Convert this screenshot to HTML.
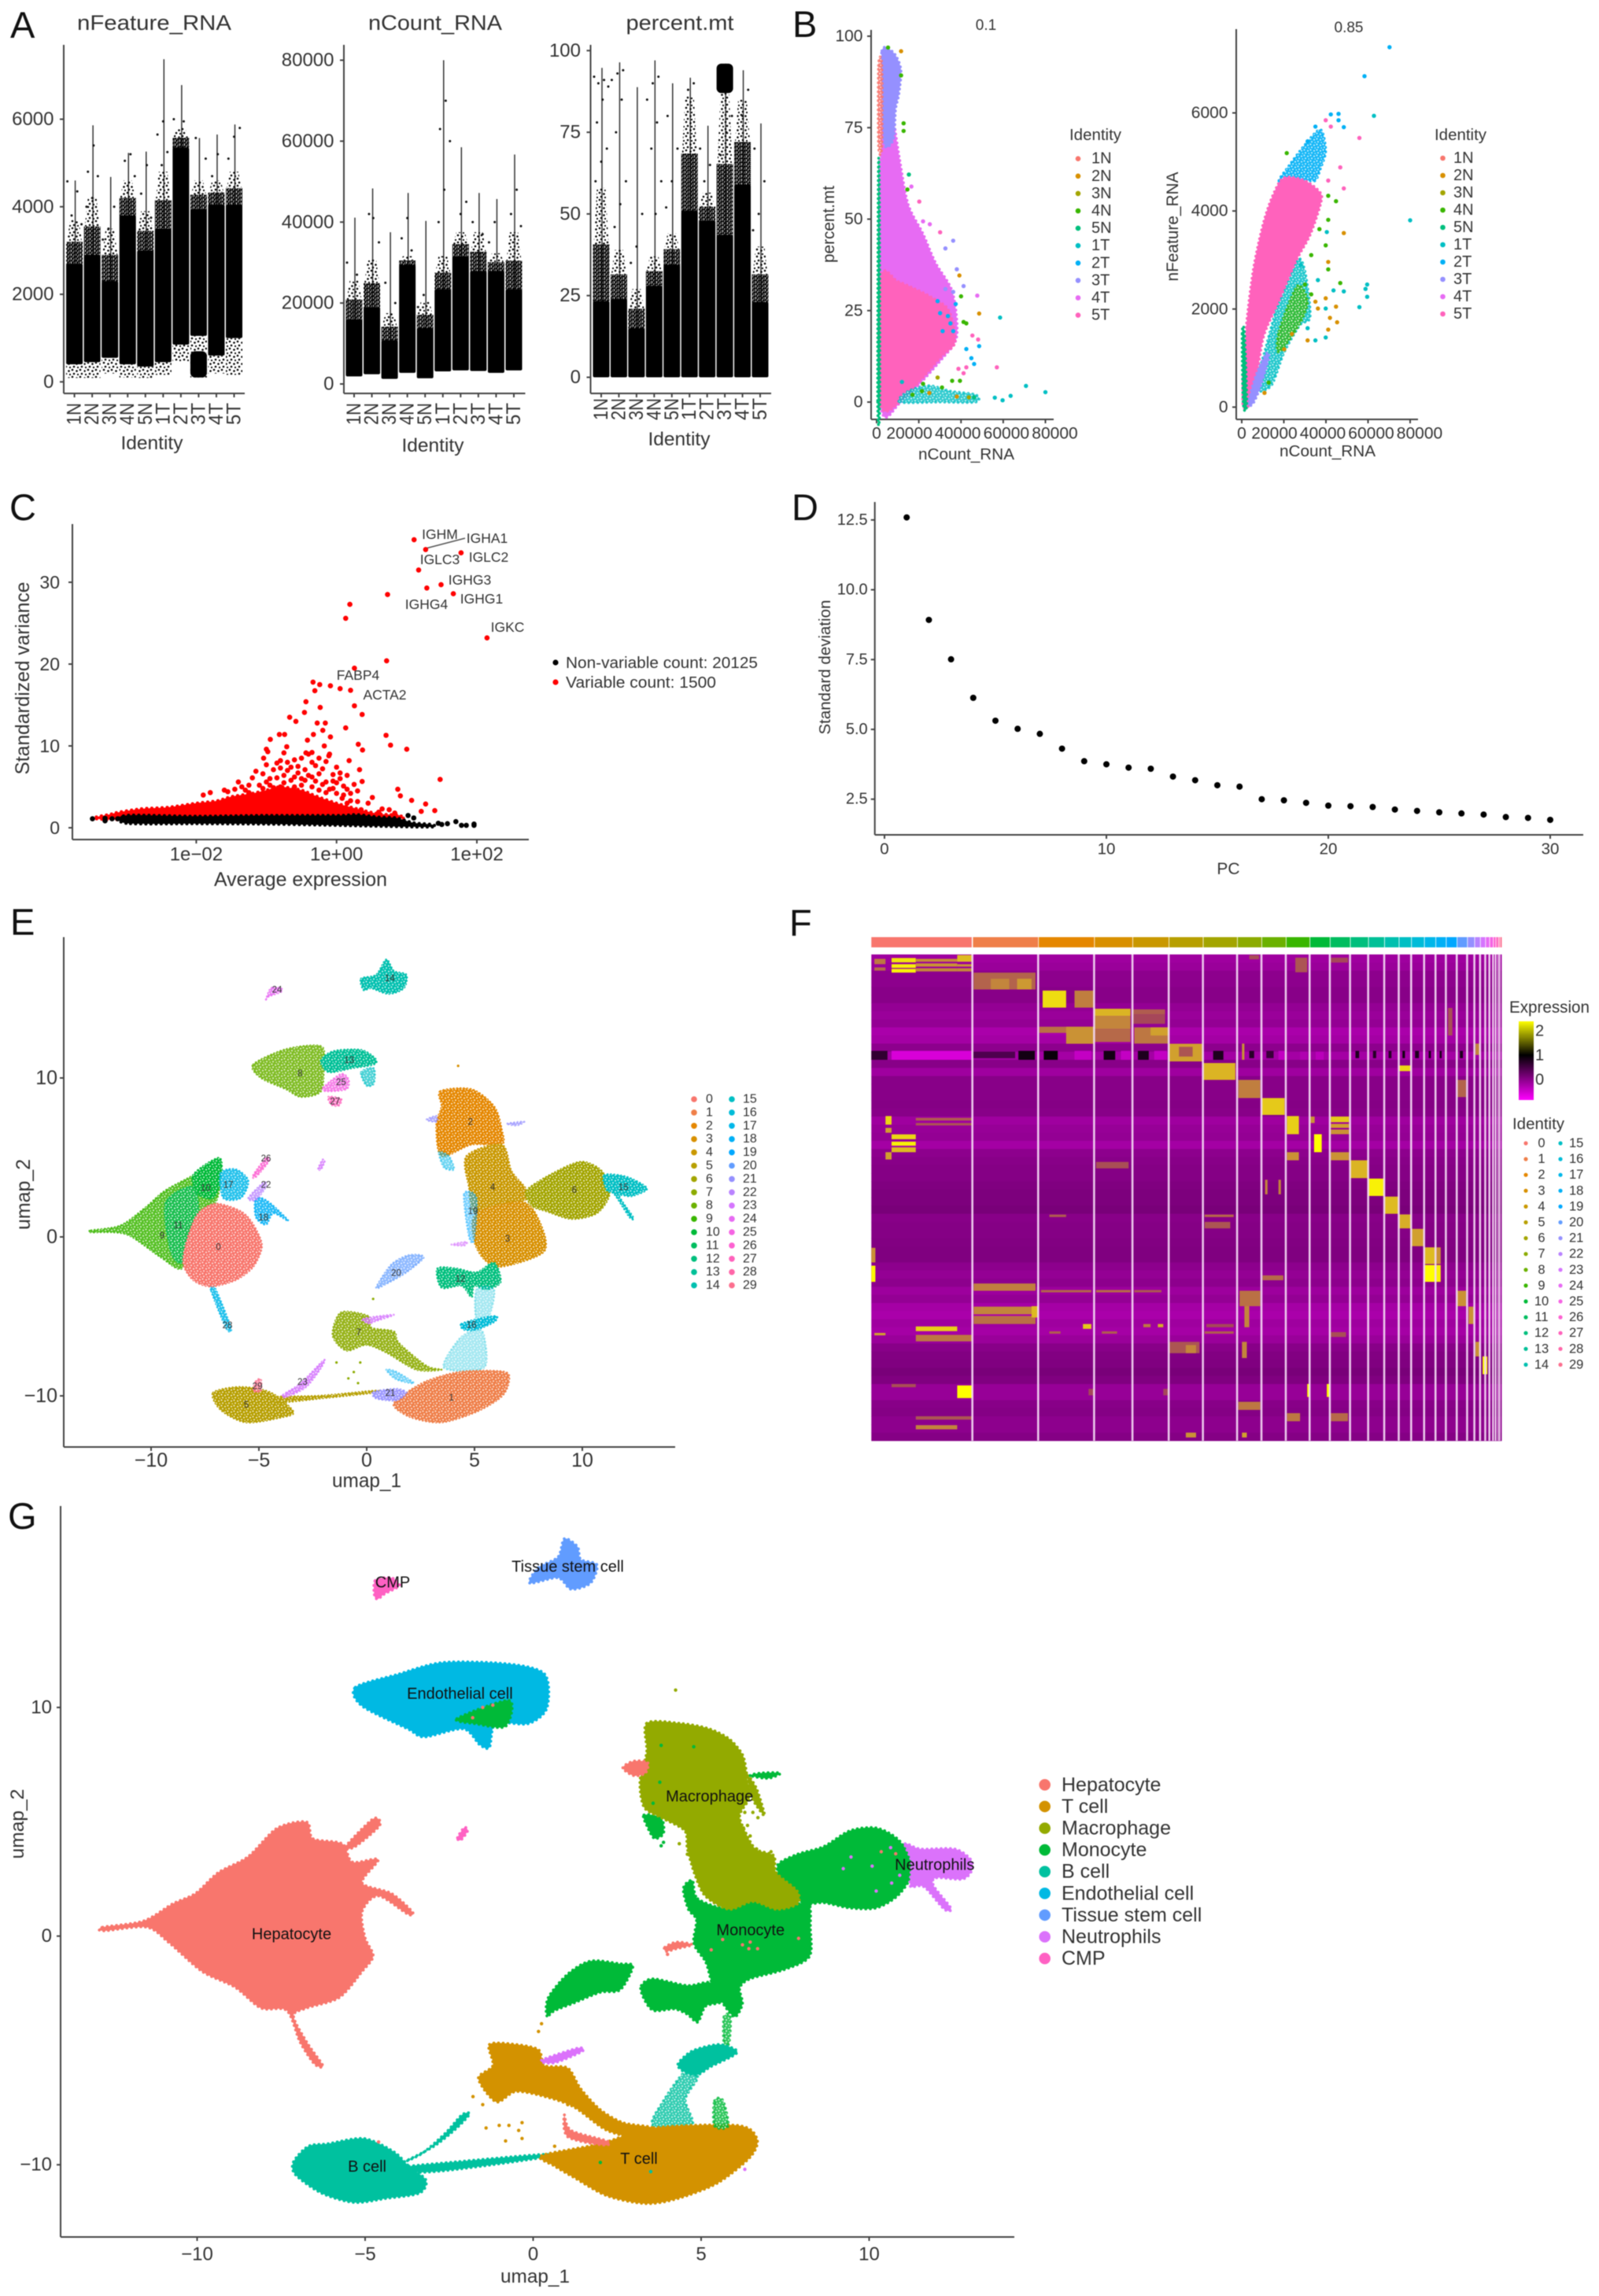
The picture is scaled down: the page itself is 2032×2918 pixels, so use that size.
<!DOCTYPE html>
<html lang="en">
<head>
<meta charset="utf-8">
<title>scRNA-seq quality control and clustering figure</title>
<style>
html,body{margin:0;padding:0;background:#fff}
svg{display:block;font-family:"Liberation Sans",sans-serif;filter:blur(.6px)}
text{fill:#333}
</style>
</head>
<body>
<svg id="root" width="2032" height="2918" viewBox="0 0 2032 2918">
<defs>
  <pattern id="stippleDense" width="6" height="5" patternUnits="userSpaceOnUse">
    <circle cx="1" cy="1" r="1.5" fill="#000"/><circle cx="4.5" cy="1.6" r="1.5" fill="#000"/><circle cx="2.4" cy="3.8" r="1.5" fill="#000"/><circle cx="5.6" cy="4.4" r="1.4" fill="#000"/>
  </pattern>
  <pattern id="stippleSparse" width="10" height="9" patternUnits="userSpaceOnUse">
    <circle cx="2" cy="2" r="1.3" fill="#000"/><circle cx="7.5" cy="3.5" r="1.3" fill="#000"/><circle cx="4" cy="7" r="1.3" fill="#000"/><circle cx="9" cy="8" r="1.1" fill="#000"/>
  </pattern>
  <pattern id="grainWhite" width="8" height="7" patternUnits="userSpaceOnUse">
    <circle cx="1.5" cy="1.5" r="1" fill="#fff" fill-opacity=".8"/><circle cx="6" cy="2.6" r="1" fill="#fff" fill-opacity=".8"/><circle cx="3" cy="5.2" r="1" fill="#fff" fill-opacity=".8"/><circle cx="7.2" cy="6" r=".8" fill="#fff" fill-opacity=".8"/>
  </pattern>
  <linearGradient id="expressionGradient" x1="0" y1="0" x2="0" y2="1">
    <stop offset="0" stop-color="#ffff00"/><stop offset=".43" stop-color="#000000"/><stop offset="1" stop-color="#ff00ff"/>
  </linearGradient>
</defs>

<!-- Panel letters -->
<text x="13" y="48" font-size="47" style="fill:#111">A</text>
<text x="1007" y="47" font-size="47" style="fill:#111">B</text>
<text x="12" y="661" font-size="47" style="fill:#111">C</text>
<text x="1006" y="661" font-size="47" style="fill:#111">D</text>
<text x="13" y="1188" font-size="47" style="fill:#111">E</text>
<text x="1003" y="1189" font-size="47" style="fill:#111">F</text>
<text x="10" y="1943" font-size="47" style="fill:#111">G</text>

<!-- Panel A -->
<g id="panelA1">
  <text x="196" y="38" font-size="27" text-anchor="middle" textLength="196" lengthAdjust="spacingAndGlyphs">nFeature_RNA</text>
  <text x="193" y="571" font-size="24" text-anchor="middle" textLength="79" lengthAdjust="spacingAndGlyphs">Identity</text>
</g>
<g id="panelA2">
  <text x="553" y="38" font-size="27" text-anchor="middle" textLength="170" lengthAdjust="spacingAndGlyphs">nCount_RNA</text>
  <text x="550" y="574" font-size="24" text-anchor="middle" textLength="79" lengthAdjust="spacingAndGlyphs">Identity</text>
</g>
<g id="panelA3">
  <text x="864" y="38" font-size="27" text-anchor="middle" textLength="137" lengthAdjust="spacingAndGlyphs">percent.mt</text>
  <text x="863" y="566" font-size="24" text-anchor="middle" textLength="79" lengthAdjust="spacingAndGlyphs">Identity</text>
</g>

<!-- Panel B -->
<g id="panelB1">
  <text x="1253" y="38" font-size="19" text-anchor="middle">0.1</text>
  <text x="1228" y="584" font-size="20" text-anchor="middle" textLength="122" lengthAdjust="spacingAndGlyphs">nCount_RNA</text>
  <text transform="rotate(-90 1060 285)" x="1060" y="285" font-size="21" text-anchor="middle" textLength="98" lengthAdjust="spacingAndGlyphs">percent.mt</text>
  <text x="1359" y="178" font-size="20" textLength="66" lengthAdjust="spacingAndGlyphs">Identity</text>
</g>
<g id="panelB2">
  <text x="1714" y="41" font-size="19" text-anchor="middle">0.85</text>
  <text x="1687" y="580" font-size="20" text-anchor="middle" textLength="122" lengthAdjust="spacingAndGlyphs">nCount_RNA</text>
  <text transform="rotate(-90 1497 288)" x="1497" y="288" font-size="21" text-anchor="middle" textLength="139" lengthAdjust="spacingAndGlyphs">nFeature_RNA</text>
  <text x="1823" y="178" font-size="20" textLength="66" lengthAdjust="spacingAndGlyphs">Identity</text>
</g>

<!-- Panel C -->
<g id="panelC">
  <text x="382" y="1126" font-size="25" text-anchor="middle" textLength="220" lengthAdjust="spacingAndGlyphs">Average expression</text>
  <text transform="rotate(-90 37 862)" x="37" y="862" font-size="25" text-anchor="middle" textLength="245" lengthAdjust="spacingAndGlyphs">Standardized variance</text>
  <circle cx="706" cy="842" r="3.6" fill="#000"/>
  <circle cx="706" cy="867" r="3.6" fill="#f00"/>
  <text x="719" y="849" font-size="20.5" textLength="244" lengthAdjust="spacingAndGlyphs">Non-variable count: 20125</text>
  <text x="719" y="874" font-size="20.5" textLength="191" lengthAdjust="spacingAndGlyphs">Variable count: 1500</text>
  <line x1="541" y1="697" x2="591" y2="684" stroke="#555" stroke-width="1.6"/>
  <text x="559" y="685" font-size="17.5" text-anchor="middle">IGHM</text>
  <text x="619" y="690" font-size="17.5" text-anchor="middle">IGHA1</text>
  <text x="559" y="717" font-size="17.5" text-anchor="middle">IGLC3</text>
  <text x="621" y="714" font-size="17.5" text-anchor="middle">IGLC2</text>
  <text x="597" y="743" font-size="17.5" text-anchor="middle">IGHG3</text>
  <text x="612" y="767" font-size="17.5" text-anchor="middle">IGHG1</text>
  <text x="542" y="774" font-size="17.5" text-anchor="middle">IGHG4</text>
  <text x="645" y="803" font-size="17.5" text-anchor="middle">IGKC</text>
  <text x="455" y="864" font-size="17.5" text-anchor="middle">FABP4</text>
  <text x="489" y="889" font-size="17.5" text-anchor="middle">ACTA2</text>
</g>

<!-- Panel D -->
<g id="panelD">
  <text x="1561" y="1111" font-size="21" text-anchor="middle">PC</text>
  <text transform="rotate(-90 1055 848)" x="1055" y="848" font-size="20" text-anchor="middle" textLength="171" lengthAdjust="spacingAndGlyphs">Standard deviation</text>
</g>

<!-- Panel E -->
<g id="panelE">
  <text x="466" y="1890" font-size="25" text-anchor="middle" textLength="88" lengthAdjust="spacingAndGlyphs">umap_1</text>
  <text transform="rotate(-90 38 1518)" x="38" y="1518" font-size="25" text-anchor="middle" textLength="90" lengthAdjust="spacingAndGlyphs">umap_2</text>
</g>

<!-- Panel F -->
<g id="panelF">
  <text x="1918" y="1287" font-size="21" textLength="102" lengthAdjust="spacingAndGlyphs">Expression</text>
  <rect x="1930" y="1298" width="19" height="100" fill="url(#expressionGradient)"/>
  <text x="1922" y="1435" font-size="20" textLength="66" lengthAdjust="spacingAndGlyphs">Identity</text>
</g>

<!-- Panel G -->
<g id="panelG">
  <text x="680" y="2901" font-size="24" text-anchor="middle" textLength="88" lengthAdjust="spacingAndGlyphs">umap_1</text>
  <text transform="rotate(-90 30 2318)" x="30" y="2318" font-size="24" text-anchor="middle" textLength="89" lengthAdjust="spacingAndGlyphs">umap_2</text>
</g>
</svg>

<script>
/* Shared drawing helpers */
const rootSvg = document.getElementById('root');
function add(parent, tag, name, attrs) {
  const el = document.createElementNS(rootSvg.namespaceURI, tag);
  
  
  for (const k in attrs) el.setAttribute(k, attrs[k]);
  parent.appendChild(el);
  return el;
}
function label(parent, name, x, y, str, size, anchor, rotate) {
  const a = {x: x, y: y, 'font-size': size, 'text-anchor': anchor || 'middle', 'dominant-baseline': 'central'};
  if (rotate) a.transform = 'rotate(' + rotate + ' ' + x + ' ' + y + ')';
  const t = add(parent, 'text', name, a);
  t.textContent = str;
  return t;
}
function linear(d0, p0, d1, p1) { return function (v) { return p0 + (v - d0) * (p1 - p0) / (d1 - d0); }; }
function axes(g, prefix, left, top, bottom, right) {
  add(g, 'line', prefix + '-y-axis-line', {x1: left, y1: top, x2: left, y2: bottom, stroke: '#444', 'stroke-width': 2});
  add(g, 'line', prefix + '-x-axis-line', {x1: left, y1: bottom, x2: right, y2: bottom, stroke: '#444', 'stroke-width': 2});
}
function yTicks(g, prefix, values, names, ys, left, size, gap) {
  values.forEach(function (v, i) {
    add(g, 'line', prefix + '-y-tick', {x1: left - 5, y1: ys(v), x2: left, y2: ys(v), stroke: '#444', 'stroke-width': 2});
    label(g, prefix + '-y-tick-label', left - gap, ys(v), names[i], size, 'end');
  });
}
function xTicks(g, prefix, values, names, xs, bottom, labelY, size, shift) {
  values.forEach(function (v, i) {
    add(g, 'line', prefix + '-x-tick', {x1: xs(v), y1: bottom, x2: xs(v), y2: bottom + 5, stroke: '#444', 'stroke-width': 2});
    label(g, prefix + '-x-tick-label', xs(v) + (shift ? shift(v) : 0), labelY, names[i], size);
  });
}
/* Closed Catmull-Rom outline through the given data-unit vertices */
function smoothPath(pts, xs, ys) {
  const p = pts.map(function (q) { return [xs(q[0]), ys(q[1])]; });
  const n = p.length;
  let d = 'M' + p[0][0].toFixed(1) + ' ' + p[0][1].toFixed(1);
  for (let i = 0; i < n; i++) {
    const a = p[(i - 1 + n) % n], b = p[i], c = p[(i + 1) % n], e = p[(i + 2) % n];
    d += 'C' + (b[0] + (c[0] - a[0]) / 7).toFixed(1) + ' ' + (b[1] + (c[1] - a[1]) / 7).toFixed(1) + ' ' +
         (c[0] - (e[0] - b[0]) / 7).toFixed(1) + ' ' + (c[1] - (e[1] - b[1]) / 7).toFixed(1) + ' ' +
         c[0].toFixed(1) + ' ' + c[1].toFixed(1);
  }
  return d + 'Z';
}
function blob(g, name, pts, xs, ys, color, opacity, dotWidth, grain) {
  const d = smoothPath(pts, xs, ys);
  add(g, 'path', name, {d: d, fill: color, 'fill-opacity': opacity, stroke: color, 'stroke-opacity': opacity, 'stroke-width': dotWidth, 'stroke-dasharray': '0.1 ' + (dotWidth * 1.6).toFixed(1), 'stroke-linecap': 'round', 'stroke-linejoin': 'round'});
  if (grain) add(g, 'path', name + '-grain', {d: d, fill: 'url(#grainWhite)'});
}
function dots(g, name, pts, xs, ys, colorOf, r) {
  pts.forEach(function (q, i) {
    add(g, 'circle', name, {cx: xs(q[0]).toFixed(1), cy: ys(q[1]).toFixed(1), r: r, fill: colorOf(q, i)});
  });
}
</script>

<script>
/* Panel A: per-identity violin / jitter summaries */
const violinCategories = ['1N','2N','3N','4N','5N','1T','2T','3T','4T','5T'];

const nFeatureTicks = [0, 2000, 4000, 6000];
const nFeatureTickLabels = ['0', '2000', '4000', '6000'];
const nFeatureMax = [4600, 5860, 4680, 5230, 5260, 7370, 6780, 5570, 5650, 5880];
const nFeatureSparseTop = [3700, 4200, 3500, 4600, 3900, 4800, 5800, 4600, 4600, 4800];
const nFeatureSolidTop = [2700, 2900, 2300, 3800, 3000, 3500, 5350, 3950, 4050, 4050];
const nFeatureSolidBottom = [400, 450, 550, 400, 350, 450, 850, 1050, 600, 1000];
const nFeatureSparseBottom = [90, 90, 190, 100, 90, 160, 470, 100, 190, 160];
const nFeatureExtras = [[0,4580],[0,4350],[0,3800],[0,3600],[1,5400],[1,4800],[1,4700],[1,4200],[1,4000],[2,4000],[2,3500],[2,3250],[3,5200],[3,5050],[3,4700],[4,4950],[4,4300],[4,3750],[5,5950],[5,5650],[5,5250],[5,4950],[6,6000],[6,5950],[7,5570],[7,5100],[8,5200],[8,4700],[9,5800],[9,5600],[9,5100]];
const nFeatureSolidInset = [[7, 100, 700]];

const nCountTicks = [0, 20000, 40000, 60000, 80000];
const nCountTickLabels = ['0', '20000', '40000', '60000', '80000'];
const nCountMax = [41100, 48300, 37500, 47200, 40300, 80000, 58500, 47200, 45700, 56700];
const nCountSparseTop = [25650, 30800, 17500, 31600, 20400, 31600, 37500, 37500, 32300, 37500];
const nCountSolidTop = [16000, 19000, 10800, 29400, 13800, 23400, 31600, 27900, 27900, 23400];
const nCountSolidBottom = [1860, 2400, 1260, 2750, 1400, 3100, 3350, 3200, 2750, 3350];
const nCountSparseBottom = [1860, 2400, 1260, 2750, 1400, 3100, 3350, 3200, 2750, 3350];
const nCountExtras = [[0,30000],[0,27000],[1,42000],[1,35000],[1,41000],[2,25000],[2,20000],[3,41000],[3,36000],[3,33000],[4,22000],[4,19000],[5,70000],[5,63000],[5,60000],[5,48000],[5,40000],[6,45000],[6,42000],[7,40000],[7,37000],[8,40000],[8,35000],[9,48000],[9,42000],[9,39000]];
const nCountSolidInset = [];

const percentTicks = [0, 25, 50, 75, 100];
const percentTickLabels = ['0', '25', '50', '75', '100'];
const percentMax = [94.7, 96.4, 88.8, 97, 90, 91.7, 77, 96, 94, 77.7];
const percentSparseTop = [58, 39, 27, 37, 44, 86, 56.5, 87, 85, 40];
const percentSolidTop = [23.3, 24, 15, 28, 34.4, 51, 48, 43.6, 59, 23];
const percentSolidBottom = [0, 0, 0, 0, 0, 0, 0, 0, 0, 0];
const percentSparseBottom = [0, 0, 0, 0, 0, 0, 0, 0, 0, 0];
const percentExtras = [[0,92],[0,91],[0,90],[0,89],[0,85],[0,78],[0,70],[0,66],[0,60],[1,94],[1,93],[1,91],[1,85],[1,75],[1,60],[1,53],[1,46],[2,50],[2,40],[2,35],[3,92],[3,90],[3,85],[3,78],[3,70],[3,60],[3,50],[4,80],[4,70],[4,60],[4,52],[5,90],[5,88],[6,70],[6,65],[6,60],[7,80],[7,75],[7,68],[8,88],[8,80],[9,70],[9,60],[9,50],[9,45]];
const percentSolidInset = [[7, 87, 96]];

function drawViolin(g, prefix, left, right, first, last, labelTop, ys, ticks, tickNames, maxV, sparseTop, solidTop, solidBottom, sparseBottom, extras, inset) {
  const xs = linear(0, first, 9, last);
  const half = 10.5;
  axes(g, prefix, left, 57, 500, right);
  yTicks(g, prefix, ticks, tickNames, ys, left, 24, 12.5);
  violinCategories.forEach(function (c, i) {
    const x = xs(i);
    add(g, 'line', prefix + '-x-tick', {x1: x, y1: 500, x2: x, y2: 505, stroke: '#444', 'stroke-width': 2});
    const t = label(g, prefix + '-category-label', x, labelTop, c, 25, 'end', -90);
    t.setAttribute('textLength', 28);
    t.setAttribute('lengthAdjust', 'spacingAndGlyphs');
    add(g, 'line', prefix + '-range-line-' + c, {x1: x + 1, y1: ys(maxV[i]), x2: x + 1, y2: ys(solidTop[i]), stroke: '#333', 'stroke-width': 1.5});
    const mid = (sparseTop[i] + solidTop[i]) / 2;
    const pts = [[x - half + 5, ys(sparseTop[i])], [x + half - 5, ys(sparseTop[i])], [x + half - 1, ys(mid)], [x - half + 1, ys(mid)]];
    add(g, 'polygon', prefix + '-sparse-jitter-' + c, {points: pts.map(function (p) { return p.join(','); }).join(' '), fill: 'url(#stippleSparse)'});
    add(g, 'rect', prefix + '-dense-jitter-' + c, {x: x - half, y: ys(mid), width: half * 2, height: ys(solidTop[i]) - ys(mid) + 1, fill: 'url(#stippleDense)'});
    add(g, 'rect', prefix + '-solid-jitter-' + c, {x: x - half, y: ys(solidTop[i]), width: half * 2, height: ys(solidBottom[i]) - ys(solidTop[i]), fill: '#000', rx: 2});
    if (sparseBottom[i] < solidBottom[i]) {
      add(g, 'rect', prefix + '-lower-jitter-' + c, {x: x - half, y: ys(solidBottom[i]), width: half * 2, height: ys(sparseBottom[i]) - ys(solidBottom[i]), fill: 'url(#stippleSparse)'});
    }
  });
  inset.forEach(function (b) {
    add(g, 'rect', prefix + '-solid-inset', {x: xs(b[0]) - half, y: ys(b[2]), width: half * 2, height: ys(b[1]) - ys(b[2]), fill: '#000', rx: 6});
  });
  extras.forEach(function (q, i) {
    add(g, 'circle', prefix + '-jitter-point', {cx: xs(q[0]) + ((i * 7) % 11 - 5) * 1.8, cy: ys(q[1]), r: 1.5, fill: '#111'});
  });
}
drawViolin(document.getElementById('panelA1'), 'nfeature', 81, 311, 94.6, 297.5, 512, linear(0, 485.3, 6000, 151.5), nFeatureTicks, nFeatureTickLabels, nFeatureMax, nFeatureSparseTop, nFeatureSolidTop, nFeatureSolidBottom, nFeatureSparseBottom, nFeatureExtras, nFeatureSolidInset);
drawViolin(document.getElementById('panelA2'), 'ncount', 437, 667.5, 450, 653, 512, linear(0, 488, 80000, 76.5), nCountTicks, nCountTickLabels, nCountMax, nCountSparseTop, nCountSolidTop, nCountSolidBottom, nCountSparseBottom, nCountExtras, nCountSolidInset);
drawViolin(document.getElementById('panelA3'), 'percent-mt', 750.5, 980, 764, 966, 506, linear(0, 479.5, 100, 64.3), percentTicks, percentTickLabels, percentMax, percentSparseTop, percentSolidTop, percentSolidBottom, percentSparseBottom, percentExtras, percentSolidInset);
</script>

<script>
/* Panel B: feature scatter plots. Dense regions are outlines in data units; outliers are read points [count, y, identity]. */
const identityColors = ['#F8766D','#D89000','#A3A500','#39B600','#00BF7D','#00BFC4','#00B0F6','#9590FF','#E76BF3','#FF62BC'];
const countTicks = [0, 20000, 40000, 60000, 80000];
const countTickLabels = ['0', '20000', '40000', '60000', '80000'];
const mtTicks = [0, 25, 50, 75, 100];
const mtTickLabels = ['0', '25', '50', '75', '100'];
const featureTicks = [0, 2000, 4000, 6000];
const featureTickLabels = ['0', '2000', '4000', '6000'];

const mtRegionIdentity = [8, 7, 0, 9, 4, 5];
const mtRegionOpacity = [1, 1, .85, 1, 1, .8];
const mtRegionOutlines = [
  [[1800,0],[11600,0],[31300,12],[38000,18],[36000,30],[28000,38],[22000,46],[15000,54],[11000,66],[8000,78],[7500,85],[2500,85],[1800,60]],
  [[2500,96],[8000,95.5],[11500,91],[10500,84],[9000,80],[8000,72],[4000,70],[2500,80]],
  [[900,92],[2500,92],[2500,70],[900,70]],
  [[1800,0],[11000,0],[30000,12],[37000,16],[36000,22],[33000,26],[25000,29],[18000,31],[10000,33],[2000,34]],
  [[500,0],[1500,0],[1300,58],[800,62]],
  [[11000,0],[30000,0],[47000,0],[47000,2],[35000,3],[25000,4.5],[15000,3]]
];
const mtOutliers = [[38000,36.3,7],[41200,31.7,7],[36300,44.1,7],[32600,42,7],[30100,46.4,9],[25200,48.6,8],[22000,49.4,8],[20200,54.8,9],[16500,58.9,8],[14600,58.1,3],[15300,62.2,4],[12800,76.2,3],[12800,74.1,3],[11600,89.3,3],[11600,95.9,1],[5400,96.9,3],[45400,18.2,9],[48100,17.1,9],[48600,15.3,6],[42500,14.5,6],[44900,12,6],[46200,10.4,6],[38800,9.1,9],[42500,9.5,9],[36300,19.4,6],[41200,7.9,9],[42500,21.5,3],[41200,21.9,3],[40000,28.9,3],[39250,34.6,1],[47700,29.1,8],[48600,24.2,1],[58500,23.1,5],[57000,9.5,9],[80000,2.7,5],[70800,4.4,5],[63500,1.7,5],[59700,.5,5],[56000,1.2,5],[31300,19.4,6],[33800,23.5,6],[30100,24.3,6],[35000,21.5,6],[37500,26.8,6],[28900,27.6,6],[32600,30.9,7],[36300,30.1,7],[31000,4,3],[22000,5,3],[28900,6.7,2],[35800,5.8,3],[39500,5.8,3],[21500,3,3],[43700,1.3,2],[46200,1.3,4],[17000,2,3],[25000,2.5,1],[38000,1.5,1],[12000,5.5,5]];

const featureRegionIdentity = [6, 5, 3, 9, 7, 4];
const featureRegionOpacity = [.9, .85, .7, 1, 1, 1];
const featureRegionOutlines = [
  [[17700,4620],[21400,4860],[30000,5350],[37400,5660],[39900,5230],[37400,4860],[34900,4620],[30000,4620],[20200,4490]],
  [[6600,380],[11600,1240],[17700,2160],[26300,3000],[30000,2775],[32500,1850],[27600,1670],[20200,1120],[14000,440]],
  [[17700,1550],[26300,2470],[31300,2160],[27600,1700],[17700,1120]],
  [[500,74],[1700,1425],[5400,2775],[10300,3760],[15300,4370],[20200,4680],[30000,4620],[37400,4370],[37400,4130],[32500,3510],[26300,3020],[17700,2160],[10300,1425],[6600,440],[4200,74]],
  [[3000,74],[6600,630],[11600,1090],[12800,1000],[9100,440],[5400,74]],
  [[200,1500],[1300,1500],[2400,74],[700,74]]
];
const featureOutliers = [[70200,7340,6],[58300,6750,6],[62800,5940,5],[80000,3810,5],[55900,5490,9],[59600,2500,5],[58800,2410,5],[59600,2250,5],[55900,2040,5],[48500,5710,6],[46000,5980,6],[42300,5970,6],[46000,5850,6],[39900,5850,9],[42300,5720,9],[35000,5720,6],[31300,5420,6],[21400,5180,3],[46800,4890,9],[41100,4620,9],[48500,4460,9],[41100,4310,3],[44800,4200,3],[41100,3820,3],[36900,3630,3],[40400,3570,5],[48500,3550,1],[39900,3300,3],[41100,2960,1],[41100,2810,3],[36200,2590,5],[46800,2530,3],[43600,2380,5],[48500,2360,5],[39900,2220,1],[44800,2050,1],[39900,2010,5],[36200,2010,1],[41900,1820,1],[45300,1730,1],[41100,1580,1],[39900,1420,5],[35000,1360,5],[31300,1360,1],[31300,1610,5],[23900,1490,1],[20200,1180,1],[12800,500,3],[10800,290,1],[33000,2300,3],[30000,2500,3],[35000,2150,1],[28000,2900,5],[33000,3100,3]];

function drawScatter(g, prefix, left, right, yTop, xs, ys, yVals, yNames, regions, regionIdx, regionOp, outliers, legendDotX, legendTextX, legendStartY, legendStep) {
  axes(g, prefix, left, yTop, 533, right);
  yTicks(g, prefix, yVals, yNames, ys, left, 21, 10.5);
  xTicks(g, prefix, countTicks, countTickLabels, xs, 533, 551, 21, function (v) { return v > 0 ? (v / 20000 - 2.5) * 8 : 0; });
  regions.forEach(function (r, i) {
    blob(g, prefix + '-dense-region-' + violinCategories[regionIdx[i]], r, xs, ys, identityColors[regionIdx[i]], regionOp[i], 3.5, regionOp[i] < 1);
  });
  dots(g, prefix + '-outlier-point', outliers, xs, ys, function (q) { return identityColors[q[2]]; }, 2.7);
  violinCategories.forEach(function (c, i) {
    const y = legendStartY + legendStep * i;
    add(g, 'circle', prefix + '-legend-dot-' + c, {cx: legendDotX, cy: y, r: 3.3, fill: identityColors[i]});
    label(g, prefix + '-legend-label-' + c, legendTextX, y, c, 20, 'start');
  });
}
drawScatter(document.getElementById('panelB1'), 'scatter-left', 1107, 1339, 38, linear(0, 1114, 80000, 1328.5), linear(0, 511, 100, 46), mtTicks, mtTickLabels, mtRegionOutlines, mtRegionIdentity, mtRegionOpacity, mtOutliers, 1370, 1387, 201.7, 22.1);
drawScatter(document.getElementById('panelB2'), 'scatter-right', 1571, 1802, 37, linear(0, 1578, 80000, 1792), linear(0, 517.4, 6000, 143.5), featureTicks, featureTickLabels, featureRegionOutlines, featureRegionIdentity, featureRegionOpacity, featureOutliers, 1833.5, 1847, 201, 22);
</script>

<script>
/* Panel C: variable features, x is log10(average expression) */
const varXTicks = [-2, 0, 2];
const varXTickLabels = ['1e\u221202', '1e+00', '1e+02'];
const varYTicks = [0, 10, 20, 30];
const varYTickLabels = ['0', '10', '20', '30'];
const variablePoints = [[1.105,35.2],[1.27,34],[1.775,33.6],[1.17,31.5],[1.287,29.3],[1.49,29.7],[1.665,28.6],[.727,28.5],[.19,27.3],[.13,25.6],[2.145,23.2],[.713,20.4],[.255,19.5],[-.335,17.8],[-.24,17.5],[-.087,17.35],[.05,17],[.2,16.8],[-.31,16.75],[-.436,15.4],[-.233,14.7],[.255,14.9],[-.458,14.1],[.364,13.85],[-.669,13.5],[-.58,13],[-.276,12.8],[-.16,12.8],[.13,12.2],[-.196,11.9],[.705,11.3],[-.815,11.4],[-.74,11.4],[-.087,11.1],[-.945,10.8],[-.415,10.7],[-.33,11.4],[.31,10.2],[.77,10.1],[-.175,10],[1,9.6],[.37,9.5],[-1,9.6],[-.71,9.9],[-.98,9.3],[-.75,9.15],[-.436,9.15],[-.35,9.2],[-.11,8.8],[-1.04,8.5],[.18,8.2],[-.8,8.2],[1.476,5.9],[.327,7.1],[.873,4.7],[.91,3.9],[1.07,3.35],[1.27,2.9],[1.207,2],[1.4,2.1],[.51,3.7],[.364,5.65],[-1.25,5.2],[-1.2,6.1],[-1.15,6.9],[-1.05,6.6],[-1,7.7],[-.95,6],[-.9,7.1],[-.85,7.9],[-.8,7.3],[-.75,6.4],[-.7,7],[-.7,8],[-.65,7.4],[-.6,8.3],[-.55,7.5],[-.5,8.5],[-.45,7.1],[-.4,9],[-.35,8],[-.3,7.6],[-.25,8.5],[-.2,7.2],[-.15,8.1],[-.1,9],[-.05,6.5],[0,7.4],[.05,6.7],[.1,5.1],[.05,6],[-.05,5.7],[.15,4.7],[.2,4.2],[.25,5.3],[.3,4.5],[.3,3.2],[.2,3.3],[.15,6.4],[.1,4],[-.6,6.2],[-.5,6],[-.4,6.4],[-.3,5.7],[-.2,5.3],[-.1,4.7],[-1,5.6],[-.9,4.9],[-1.3,4.6],[-1.4,5.6],[-1.45,4.7],[-1.55,4.4],[-.8,5],[.45,3],[.65,2.3],[.75,2.2],[.35,2.2],[.6,1.9],[.83,1.8],[-1.6,4.6],[-1.35,5],[-1.25,4.3],[-1.1,5.2],[-1.05,4.8],[-.95,5.2],[-.85,6.1],[-.75,5.5],[-.65,5.8],[-.6,5],[-.55,6.7],[-.5,5.2],[-.45,5.8],[-.35,6.2],[-.35,5],[-.25,6.6],[-.25,4.6],[-.15,5.6],[-.15,4.3],[-.05,4.8],[0,5.5],[0,4.2],[.08,3.6],[.15,3],[-1.8,4.3],[-1.9,4]];
const variableBandOutline = [[-3.2,1],[-3.2,1.7],[-2.8,2.3],[-2.4,2.5],[-2,3],[-1.7,3.3],[-1.5,3.8],[-1.2,4.2],[-1,4.6],[-.8,5],[-.5,4.6],[-.3,3.9],[0,3],[.3,2.3],[.6,1.7],[.9,1.5],[.6,1]];
const nonVariableBandOutline = [[-3,.55],[-3,1.5],[-2,1.4],[-1,1.5],[0,1.5],[.3,1.6],[.6,1.3],[.85,1.2],[1.1,.6],[1.35,.4],[1.35,.1],[.5,.2],[0,.3],[-1,.45],[-2,.5]];
const nonVariablePoints = [[-3.48,1.1],[-3.3,1.15],[-3.3,.85],[-3.2,1.1],[-3.12,1.1],[-3.05,1.2],[1.02,1.5],[1.1,1.2],[1.45,.55],[1.5,.4],[1.58,.5],[1.7,.75],[1.78,.3],[1.85,.3],[1.96,.45],[1.96,.3]];

const panelC = document.getElementById('panelC');
const varX = linear(0, 427.7, 2, 606);
const varY = linear(0, 1052, 30, 740);
axes(panelC, 'variable-features', 92, 666, 1067, 672);
yTicks(panelC, 'variable-features', varYTicks, varYTickLabels, varY, 92, 23, 16);
xTicks(panelC, 'variable-features', varXTicks, varXTickLabels, varX, 1067, 1086, 24);
blob(panelC, 'variable-gene-band', variableBandOutline, varX, varY, '#f00', 1, 4, false);
dots(panelC, 'variable-gene-point', variablePoints, varX, varY, function () { return '#f00'; }, 3.3);
blob(panelC, 'non-variable-gene-band', nonVariableBandOutline, varX, varY, '#000', 1, 4, false);
dots(panelC, 'non-variable-gene-point', nonVariablePoints, varX, varY, function () { return '#000'; }, 3.3);

/* Panel D: elbow plot */
const pcTicks = [0, 10, 20, 30];
const pcTickLabels = ['0', '10', '20', '30'];
const sdTicks = [2.5, 5, 7.5, 10, 12.5];
const sdTickLabels = ['2.5', '5.0', '7.5', '10.0', '12.5'];
const pcStdDev = [12.59,8.92,7.51,6.13,5.31,5.02,4.84,4.31,3.86,3.75,3.63,3.59,3.31,3.18,3,2.95,2.5,2.46,2.37,2.27,2.25,2.22,2.13,2.08,2.03,1.99,1.95,1.86,1.83,1.76];

const panelD = document.getElementById('panelD');
const pcX = linear(0, 1124, 30, 1970);
const sdY = linear(2.5, 1015.7, 12.5, 660.8);
axes(panelD, 'elbow', 1111.7, 638, 1061, 2012);
yTicks(panelD, 'elbow', sdTicks, sdTickLabels, sdY, 1111.7, 20, 9);
xTicks(panelD, 'elbow', pcTicks, pcTickLabels, pcX, 1061, 1079, 20.5);
pcStdDev.forEach(function (v, i) {
  const dot = add(panelD, 'circle', 'elbow-point-pc' + (i + 1), {cx: pcX(i + 1), cy: sdY(v), r: 4, fill: '#000'});
});
</script>

<script>
/* Panel E: clusters on UMAP. Region outlines are in umap units. */
const clusterNames = ['0','1','2','3','4','5','6','7','8','9','10','11','12','13','14','15','16','17','18','19','20','21','22','23','24','25','26','27','28','29'];
const clusterColors = ['#F8766D','#EF7F49','#E58700','#D89000','#C99800','#B79F00','#A3A500','#8CAB00','#6BB100','#39B600','#00BA38','#00BD5F','#00BF7D','#00C097','#00C0AF','#00BFC4','#00BCD8','#00B7E9','#00B0F6','#00A8FF','#619CFF','#9590FF','#B983FF','#D575FE','#E76BF3','#F564E3','#FD61D1','#FF62BC','#FF66A8','#FC6F8F'];
const umapTicksX = [-10, -5, 0, 5, 10];
const umapTickLabelsX = ['\u221210', '\u22125', '0', '5', '10'];
const umapTicksY = [-10, 0, 10];
const umapTickLabelsY = ['\u221210', '0', '10'];

const eRegionCluster = [9,11,10,17,18,22,26,17,0, 2,4,3,17,21,21,6,15,19,23, 12,16,16,16,20,7,5,5,23,29,1,21,18, 8,13,25,27,15,24,14,23,23];
const eRegionOpacity = [.85,.7,1,.85,.85,.75,.85,.85,1, 1,1,1,.55,.75,.75,1,1,.5,.6, 1,1,.35,.35,.7,.9,1,1,.85,.8,1,.9,.5, .85,1,.8,.85,.7,.85,1,.8,.8];
const eRegionOutlines = [
 [[-12.77,.41],[-11.42,.72],[-10.26,1.85],[-9.33,2.93],[-7.7,4.13],[-6.84,4.97],[-6.77,3.65],[-7,2.21],[-7.7,1.49],[-8.28,.05],[-8.58,-1.99],[-9.56,-1.27],[-10.95,.05],[-11.77,.29],[-12.77,.29]],
 [[-9.33,2.14],[-8.05,3.17],[-7.81,1.49],[-8.28,.05],[-8.58,-1.63],[-9.09,-.91]],
 [[-8.05,3.89],[-6.84,4.97],[-6.77,3.65],[-7.12,2.45],[-7.81,2.69]],
 [[-6.77,4.01],[-6.07,4.25],[-5.49,3.53],[-5.84,2.45],[-6.65,2.45]],
 [[-5.14,2.45],[-4.56,2.21],[-3.63,1.01],[-4.33,1.49],[-4.67,.77],[-5.14,1.25]],
 [[-5.49,2.45],[-4.79,3.41],[-4.67,3.17],[-5.14,2.33]],
 [[-5.26,3.89],[-4.67,4.97],[-4.56,4.73],[-5.14,3.77]],
 [[-7.23,-3.31],[-7,-3.31],[-6.3,-5.71],[-6.53,-5.71]],
 [[-8.51,-1.63],[-8.28,.05],[-7.81,1.49],[-7,2.09],[-5.84,1.61],[-5.26,.77],[-4.86,-.55],[-5.26,-1.87],[-6.07,-2.71],[-7.23,-3.12],[-8.05,-2.71]],
 [[3.42,9.17],[4.86,9.29],[5.91,8.21],[6.26,6.77],[6.26,5.81],[4.86,5.81],[3.47,5.09],[3.23,7.01],[3.47,8.21]],
 [[4.63,5.09],[6.26,5.81],[6.72,4.13],[7.42,2.93],[7.19,2.21],[5.09,1.49],[4.74,3.17]],
 [[5.09,1.49],[7.19,2.21],[8,1.01],[8.23,-.91],[6.26,-1.87],[5.44,-1.39],[4.98,-.19]],
 [[3.35,5.33],[3.81,5.09],[4.05,4.25],[3.58,4.37]],
 [[3.23,7.61],[2.77,7.37],[3.23,7.25]],
 [[6.53,7.13],[7.3,7.25],[6.95,7.01]],
 [[7.42,2.93],[8.81,4.13],[9.98,4.73],[10.91,4.13],[11.26,2.69],[10.67,1.49],[9.51,1.13],[8.35,1.61],[7.65,1.97]],
 [[11.02,3.89],[12.07,3.77],[13,3.05],[12.3,2.57],[11.72,2.57],[12.35,1.25],[12.19,1.25],[11.49,2.69],[11.14,2.93]],
 [[4.51,2.69],[5.09,2.45],[4.98,-.19],[4.74,.05]],
 [[3.93,-.48],[4.63,-.31],[4.51,-.55]],
 [[3.28,-1.99],[4.16,-1.99],[5.09,-2.23],[5.91,-1.63],[6.21,-2.83],[5.56,-3.31],[4.98,-3.07],[4.86,-3.79],[4.4,-3.07],[3.47,-3.19]],
 [[4.4,-5.47],[5.33,-5.11],[6.02,-4.99],[5.91,-5.35],[5.09,-5.83],[4.51,-5.83]],
 [[3.58,-8.24],[4.28,-6.43],[5.09,-5.83],[5.44,-6.19],[5.44,-8.24]],
 [[5.09,-3.31],[5.91,-3.31],[5.67,-4.99],[5.09,-5.23]],
 [[.44,-3.19],[1.14,-1.75],[1.95,-1.15],[2.65,-1.27],[1.84,-2.23],[.91,-2.95]],
 [[-1.19,-4.75],[.09,-4.99],[.21,-5.71],[1.26,-5.95],[1.49,-6.67],[2.77,-8.11],[3.47,-8.35],[2.3,-8.35],[.91,-7.27],[-.02,-6.79],[-.95,-7.15],[-1.58,-6.19]],
 [[-7.12,-9.8],[-5.84,-9.44],[-4.44,-9.8],[-3.4,-11],[-3.98,-11.36],[-5.6,-11.67],[-6.77,-10.88]],
 [[-4.44,-10.08],[-2.12,-9.99],[.33,-9.68],[.33,-9.8],[-2.12,-10.16],[-3.98,-10.4]],
 [[-3.86,-9.92],[-3.05,-9.2],[-2,-7.76],[-2.12,-8.24],[-2.81,-9.44],[-3.74,-10.08]],
 [[-5.14,-9.08],[-4.91,-8.96],[-4.91,-9.68],[-5.26,-9.68]],
 [[1.6,-10.04],[2.77,-9.08],[4.4,-8.48],[6.37,-8.48],[6.6,-9.08],[6.26,-10.04],[5.09,-11],[3.47,-11.67],[2.07,-11.36],[1.26,-10.64]],
 [[.33,-9.75],[1.37,-9.56],[1.84,-9.8],[1.37,-10.28],[.44,-10.16]],
 [[.91,-8.36],[1.37,-8.48],[2.19,-9.2],[1.37,-8.96]],
 [[-5.26,10.85],[-3.74,11.81],[-2.12,12],[-2,10.85],[-2.12,9.17],[-3.05,8.81],[-3.74,9.29],[-4.91,10.01]],
 [[-2.12,11.09],[-1.53,11.69],[-.26,11.76],[.4,11.21],[.33,10.85],[-.72,10.61],[-1.77,10.37]],
 [[-2,9.41],[-1.19,10.25],[-.84,9.89],[-.95,9.29],[-1.88,9.17]],
 [[-1.77,8.81],[-1.19,8.69],[-1.3,8.26],[-1.65,8.33]],
 [[-.26,10.37],[.33,10.61],[.33,9.65],[-.02,9.53]],
 [[-4.67,14.93],[-4.44,15.65],[-3.98,15.65],[-3.98,15.41],[-4.56,15.12]],
 [[-.26,16.25],[.44,16.49],[.91,17.45],[1.26,16.73],[1.84,16.49],[1.72,15.65],[1.02,15.29],[.21,15.65],[-.14,15.53]],
 [[-2.25,4.3],[-2.05,4.85],[-1.95,4.75],[-2.12,4.25]],
 [[-.15,-5.15],[1.25,-4.9],[.4,-5.3],[.1,-5.45]]
];
const eClusterLabelU1 = [-6.88,3.93,4.81,6.53,5.84,-5.58,9.63,-.37,-3.09,-9.49,-7.47,-8.74,4.35,-.81,1.07,11.91,4.86,-6.42,-4.79,4.93,1.37,1.09,-4.67,-2.98,-4.16,-1.19,-4.67,-1.47,-6.46,-5.07];
const eClusterLabelU2 = [-.67,-10.16,7.2,-.14,3.1,-10.59,2.93,-6.03,10.25,.05,3.05,.7,-2.67,11.09,16.25,3.1,-5.58,3.24,1.18,1.58,-2.3,-9.86,3.24,-9.15,15.53,9.7,4.9,8.5,-5.59,-9.43];
const eSmallPoints = [[4.24,10.76,3],[-.6,-8.5,7],[-.3,-7.9,7],[-.85,-8.9,7],[-.4,-9.2,7],[-1.4,-7.9,7],[.3,-3.9,7]];

const panelE = document.getElementById('panelE');
const eX = linear(0, 466, 10, 740);
const eY = linear(0, 1572, 10, 1370);
axes(panelE, 'cluster-umap', 81, 1191, 1839, 858);
yTicks(panelE, 'cluster-umap', umapTicksY, umapTickLabelsY, eY, 81, 25, 8);
xTicks(panelE, 'cluster-umap', umapTicksX, umapTickLabelsX, eX, 1839, 1856, 25);
eRegionOutlines.forEach(function (r, i) {
  blob(panelE, 'cluster-' + eRegionCluster[i] + '-cells', r, eX, eY, clusterColors[eRegionCluster[i]], eRegionOpacity[i], 2.6, true);
});
dots(panelE, 'cluster-stray-cell', eSmallPoints, eX, eY, function (q) { return clusterColors[q[2]]; }, 1.6);
clusterNames.forEach(function (c, i) {
  label(panelE, 'cluster-label-' + c, eX(eClusterLabelU1[i]), eY(eClusterLabelU2[i]), c, 11.5);
  const col = i < 15 ? 0 : 1;
  const y = 1397 + (i % 15) * 16.9;
  add(panelE, 'circle', 'cluster-legend-dot-' + c, {cx: col ? 930 : 882, cy: y, r: 3.8, fill: clusterColors[i]});
  label(panelE, 'cluster-legend-label-' + c, col ? 944 : 897, y, c, 16, 'start');
});
</script>

<script>
/* Panel F: top-marker heatmap. Columns are cells per cluster, rows are 300 marker genes. */
const heatClusterCells = [3900,2540,2160,1480,1400,1320,1320,940,940,920,780,780,700,620,560,480,500,440,400,420,400,280,220,200,160,140,100,100,60,80];
const heatRowBase = [-.15,-.11,-.02,-.02,.02,.02,-.07,-.11,-.07,-.23,-.18,-.02,-.18,.02,-.15,.02,.02,.02,.04,.02,-.15,-.09,-.07,-.18,-.02,.02,.04,.04,.08,.1,.1,.13,.02,.04,.04,.06,.08,.08,-.02,-.07,-.02,-.13,-.07,-.19,-.23,-.15,-.19,-.11,.02,.06,.08,.13,.08,-.09,-.09,.02,.04,-.02,-.02,.04];
/* each block: cluster, start/end fraction within the cluster, first/last gene, mean scaled expression */
const heatBandBlocks = [[0,0,.16,59.5,65,.65],[0,.2,1,59.5,65,-.56],[1,0,.65,60,64,.43],[1,.7,.95,59.5,65,.86],[2,.1,.35,59.5,65,.93],[2,.65,.95,59.5,65,-.41],[3,.25,.55,59.5,65,.86],[3,.7,.95,59.5,65,-.41],[4,.15,.45,59.5,65,.79],[4,.6,.95,59.5,65,-.41],[6,.3,.6,59.5,65,.79],[7,.5,.7,59.5,64,.72],[8,.2,.5,59.5,64,.58],[8,.7,.95,59.5,65,-.41],[9,.6,.9,60,65,-.27],[10,.3,.7,60,65,-.34],[12,.3,.5,59.5,64,.79],[13,.3,.5,59.5,64,.72],[14,.3,.5,59.5,64,.72],[15,.3,.5,59.5,64,.86],[16,.3,.6,59.5,64,.79],[17,.4,.6,59.5,64,.79],[18,.4,.6,59.5,64,.79],[20,.3,.6,59.5,64,.79]];
const heatCluster0Blocks = [[0,.03,.14,2.7,6,1.3],[0,.03,.14,8,10,1.2],[0,.2,.44,2.2,4.9,2.1],[0,.2,.44,6,8.3,2.2],[0,.2,.44,8.9,11.2,2.2],[0,.44,.85,2.7,4.5,1.45],[0,.44,.85,5.5,7.5,1.5],[0,.44,.85,8.5,10.5,1.4],[0,.85,1,.4,4.5,1.8],[0,.85,1,6,7.5,1.5],[0,.85,1,8.5,10.5,1.4],[0,.14,.2,99.7,105,2],[0,.14,.2,107,110,1.6],[0,.14,.2,122,126.5,1.6],[0,.2,.44,111,114,2],[0,.2,.44,115.5,118,2.2],[0,.2,.44,119,122,1.8],[0,.44,1,100.8,102.5,1.1],[0,.44,1,104,105.5,1.05],[0,0,.04,181,190,1.5],[0,0,.04,192,202,2.25],[0,.44,.85,229.5,232.4,1.95],[0,.44,1,234.7,238.7,1.3],[0,.03,.14,233.5,235,1.6],[0,.85,1,265.9,273.7,2.35],[0,.44,.85,290.4,293,1.4],[0,.44,1,284.9,287,1.05],[0,.2,.44,265,267,1]];
const heatMarkerBlocks = [[1,.02,.96,11.2,21.6,1.15],[1,.28,.56,15,21.6,1.4],[1,.68,.9,15,21.6,1.55],[1,.02,.96,203,207.5,1.35],[1,.02,.96,217.3,222,1.4],[1,.02,.96,223,228,1.25],[1,.9,1,217,224,1.8],[2,.08,.5,22.3,32.8,2.05],[2,.65,1,22.3,32.8,1.35],[2,.02,1,44.6,48.4,1.25],[2,.5,1,44.6,55.1,1.5],[3,0,.95,33.5,38,1.75],[3,0,.95,38,46,1.4],[3,0,.95,46,54,1.2],[4,0,.9,33.9,37,1.1],[4,0,.9,37,42.8,.95],[4,.05,1,45,55,1.3],[4,.5,1,45,50,1.6],[5,0,1,55.1,66,1.6],[5,.3,.7,57,63,1.05],[6,0,.95,67,77.4,1.75],[7,.05,.95,77.4,88.6,1.35],[7,.2,.3,55,65,1.5],[8,0,.95,88.6,99,1.9],[9,.05,.55,99.7,110.9,1.95],[9,.05,.55,122,127,1.5],[10,.22,.6,110.9,122,2.3],[10,.05,.25,100,104,1.5],[11,.05,.95,100,103.5,1.9],[11,.05,.95,104.5,107,1.6],[11,.05,.95,108,110.9,1.5],[11,.05,.95,122,127,1.5],[12,0,1,127,138,1.75],[13,0,1,138.3,149,2.2],[14,0,1,149.4,160,1.8],[15,0,1,160.4,169,1.7],[15,0,1,68.5,72,2],[16,0,1,169.3,180,1.6],[17,0,1,180.7,191,1.8],[17,0,1,191.6,202,2.3],[18,0,.5,180.7,191,1.5],[18,0,.5,191.6,202,2.2],[20,0,.9,207.5,217,1.5],[20,0,.9,77.4,88,1.15],[19,.2,.6,33,50,1],[21,.2,.9,217.3,228,1.5],[22,.2,.9,239,248,1.5],[22,.2,.9,55,62,1.4],[23,.5,1,248,259,2.3],[24,0,.5,248,259,2.3]];
const heatStrayBlocks = [[2,.05,.95,207,208.5,1.15],[3,.05,.95,207,208.5,1.2],[4,.05,.8,207,208.5,1.05],[2,.8,.95,228,231,1.9],[2,.2,.4,232.5,234,1.1],[3,.2,.6,232.5,234,1.1],[6,.05,.9,232.5,234,1.1],[6,.1,.9,228,230,.95],[4,.3,.5,228,230,1.3],[4,.7,.85,228,230,1.7],[5,0,.9,239,246,1.05],[5,.5,.8,241,246,1.4],[7,.2,.4,239,249,1.4],[7,.1,.95,207.5,217,1.25],[7,.3,.5,217,230,1.4],[7,.05,.95,276,281,1.3],[8,.05,.9,198,201,1.2],[8,.15,.25,139,148,1.4],[8,.7,.8,139,148,1.4],[9,.05,.6,283,288,1.3],[11,.05,.9,283,288,1.2],[11,.05,.8,233,236,1],[2,.9,1,268,272,.95],[4,.85,1,268,272,.95],[9,.9,1,265,273,2.3],[10,.85,1,265,273,2.3],[5,.5,.8,295,298,1.5],[7,.2,.4,295,298,1.6],[3,.05,.9,128,132,1],[2,.2,.5,160.5,162,1.1],[6,.05,.9,160.5,162,1.2],[6,.05,.8,165,169,1.05],[9,.4,.9,2,11,1.05],[11,.05,.9,2,5,.95],[7,.5,.9,.5,3,1]];
const heatLegendTicks = [0, 1, 2];
const heatLegendLabels = ['0', '1', '2'];

const panelF = document.getElementById('panelF');
const heatLeft = 1107.3, heatRight = 1908.5, heatTop = 1213, heatBottom = 1831;
const heatTotalCells = heatClusterCells.reduce(function (a, b) { return a + b; }, 0);
const heatCellX = linear(0, heatLeft, heatTotalCells, heatRight);
const heatGeneY = linear(0, heatTop, 300, heatBottom);
const heatOffsets = heatClusterCells.map(function (c, i) { return heatClusterCells.slice(0, i).reduce(function (a, b) { return a + b; }, 0); });
function heatColor(v) {
  if (v < .94) { const t = Math.min(1, Math.abs(1 - v) / 1.84); const c = Math.round(255 * t); return 'rgb(' + c + ',0,' + c + ')'; }
  /* averaged yellow / magenta jitter reads as tan between mid and high expression */
  const t = Math.min(1, (v - .94) / 1.36);
  return 'rgb(' + Math.round(165 + 90 * t) + ',' + Math.round(70 + 185 * t) + ',' + Math.round(90 * (1 - t)) + ')';
}
heatRowBase.forEach(function (v, i) {
  add(panelF, 'rect', 'heatmap-gene-row-band', {x: heatLeft, y: heatGeneY(i * 5), width: heatRight - heatLeft, height: heatGeneY(5) - heatGeneY(0) + .4, fill: heatColor(v)});
});
heatBandBlocks.concat(heatCluster0Blocks, heatMarkerBlocks, heatStrayBlocks).forEach(function (b) {
  const w = heatClusterCells[b[0]];
  const x0 = heatCellX(heatOffsets[b[0]] + b[1] * w);
  const x1 = heatCellX(heatOffsets[b[0]] + b[2] * w);
  add(panelF, 'rect', 'heatmap-expression-block-cluster-' + b[0], {x: x0, y: heatGeneY(b[3]), width: x1 - x0, height: heatGeneY(b[4]) - heatGeneY(b[3]), fill: heatColor(b[5])});
});
heatClusterCells.forEach(function (w, i) {
  const x0 = heatCellX(heatOffsets[i]);
  const x1 = heatCellX(heatOffsets[i] + w);
  const sep = Math.min(2.6, (x1 - x0) * .7);
  add(panelF, 'rect', 'heatmap-annotation-cluster-' + i, {x: x0 + (i ? .8 : 0), y: 1191, width: Math.max(.8, x1 - x0 - .8), height: 13, fill: clusterColors[i]});
  if (i > 0) add(panelF, 'rect', 'heatmap-cluster-separator', {x: x0 - sep / 2, y: heatTop, width: sep, height: heatBottom - heatTop, fill: '#F3D8F3', 'fill-opacity': .92});
});
heatLegendTicks.forEach(function (v, i) {
  label(panelF, 'expression-legend-tick-' + v, 1951, linear(0, 1372.7, 2, 1310.7)(v), heatLegendLabels[i], 20, 'start');
});
clusterNames.forEach(function (c, i) {
  const col = i < 15 ? 0 : 1;
  const y = 1453 + (i % 15) * 20.1;
  add(panelF, 'circle', 'heatmap-identity-legend-dot-' + c, {cx: col ? 1983 : 1939, cy: y, r: 2.6, fill: clusterColors[i]});
  if (col) label(panelF, 'heatmap-identity-legend-label-' + c, 1994, y, c, 16.5, 'start');
  else label(panelF, 'heatmap-identity-legend-label-' + c, 1959, y, c, 16.5, 'middle');
});
</script>

<script>
/* Panel G: annotated cell types on UMAP. Region outlines are in umap units. */
const cellTypes = ['Hepatocyte','T cell','Macrophage','Monocyte','B cell','Endothelial cell','Tissue stem cell','Neutrophils','CMP'];
const cellTypeColors = ['#F8766D','#D39200','#93AA00','#00BA38','#00C19F','#00B9E3','#619CFF','#DB72FB','#FF61C3'];
const cellLabelU1 = [-7.19,3.15,5.25,6.47,-4.94,-2.18,1.03,11.95,-4.18];
const cellLabelU2 = [.07,-9.76,6.09,.25,-10.1,10.58,16.14,3.1,15.46];

const gRegionType = [0,0,3,3,3,3,3,3,3,2,2,4,4,4,4,4,1,1,5,3,6,8,7,7,0,0,0,8,3];
const gRegionOpacity = [1,1,1,1,1,1,1,.8,1,1,1,1,.8,1,1,1,1,1,1,1,1,1,1,1,1,1,1,1,.8];
const gRegionOutlines = [
 [[-12.81,.39],[-11.6,.66],[-10.73,1.41],[-10.05,1.87],[-9.37,2.78],[-8.49,3.47],[-7.62,4.72],[-6.74,4.99],[-6.55,4.26],[-5.68,4.04],[-5.38,3.24],[-4.61,3.35],[-5.09,2.33],[-4.22,1.87],[-3.6,1.07],[-3.73,.96],[-4.61,1.76],[-5.09,1.07],[-5,-.07],[-4.76,-.87],[-5.09,-1.55],[-5.77,-2.69],[-6.74,-3.15],[-7.13,-3.49],[-6.74,-4.63],[-6.26,-5.66],[-6.51,-5.59],[-6.94,-4.63],[-7.33,-3.26],[-8.1,-3.15],[-8.88,-2.23],[-9.85,-1.55],[-10.83,-.3],[-11.5,.39],[-12.77,.23]],
 [[-5.58,3.92],[-4.76,5.13],[-4.57,4.83],[-5.29,3.92]],
 [[4.9,1.63],[5.83,1.17],[6.54,1.51],[7.24,1.17],[7.86,1.4],[8.22,1.4],[8.25,.37],[8.22,-.9],[7.47,-1.47],[6.46,-1.87],[6.15,-2.27],[6.23,-2.96],[5.99,-3.53],[5.6,-2.85],[5.37,-2.39],[5.29,-1.93],[5.13,-1.12],[4.78,-.32],[4.86,.71],[4.62,1.17],[4.47,2.09],[4.74,2.43]],
 [[7.28,3.12],[7.86,3.58],[8.65,3.92],[9.43,4.61],[10.21,4.73],[10.83,4.27],[11.22,3.46],[11.22,2.55],[10.83,1.74],[10.21,1.23],[9.43,1.23],[8.65,1.46],[8.18,1.4],[7.86,1.63],[7.4,2.43]],
 [[3.3,5.3],[3.81,5.18],[3.88,4.5],[3.61,4.27],[3.38,4.84]],
 [[.41,-3.49],[.45,-2.69],[1.03,-1.66],[1.71,-1.09],[2.59,-1.21],[2.97,-1.32],[2.59,-2.35],[2,-2.46],[1.22,-2.92],[.64,-3.26]],
 [[3.22,-2.16],[3.57,-1.87],[4.59,-2.16],[5.29,-2.04],[5.6,-2.85],[5.13,-3.07],[4.9,-3.76],[4.59,-3.42],[4.2,-3.19],[3.57,-3.25],[3.26,-2.62]],
 [[5.68,-3.53],[5.87,-3.53],[5.83,-4.68],[5.68,-4.68]],
 [[6.46,7.02],[6.77,7.13],[7.36,7.13],[7,6.9]],
 [[3.38,9.31],[4.35,9.31],[5.21,9.08],[5.83,8.63],[6.23,7.94],[6.34,7.25],[6.38,6.79],[6.46,6.1],[6.15,5.3],[6.3,4.61],[6.62,3.81],[7.16,3.52],[7.24,2.77],[7.86,1.97],[7.86,1.4],[7.24,1.17],[6.54,1.51],[5.83,1.17],[5.13,1.74],[4.82,2.66],[4.59,3.81],[4.51,4.61],[3.81,5.18],[3.3,5.64],[3.18,6.79],[3.38,8.05]],
 [[6.38,7.02],[6.65,6.45],[6.89,5.3],[6.73,5.53],[6.5,6.1]],
 [[-7.13,-9.87],[-6.69,-9.19],[-6.11,-9.08],[-5.04,-8.85],[-4.16,-9.42],[-3.67,-10.1],[-3.19,-10.67],[-3.38,-11.24],[-4.36,-11.47],[-5.33,-11.65],[-6.3,-11.24],[-7.07,-10.44]],
 [[3.56,-8.28],[3.88,-7.2],[4.51,-5.95],[4.9,-6.17],[4.53,-7.14],[4.72,-8.28]],
 [[4.31,-5.6],[4.74,-5.02],[5.52,-4.74],[6.03,-4.97],[5.99,-5.2],[5.29,-5.71],[4.9,-6.06],[4.51,-5.95]],
 [[-3.83,-10.1],[-2.27,-9.87],[.25,-9.55],[.25,-9.69],[-2.27,-10.2],[-3.44,-10.33]],
 [[-3.83,-9.87],[-2.95,-9.19],[-2.27,-8.39],[-1.89,-7.78],[-2.12,-7.82],[-2.6,-8.6],[-3.3,-9.5]],
 [[.25,-9.6],[2,-9.08],[3.56,-8.39],[6.08,-8.28],[6.66,-8.85],[6.47,-9.65],[5.5,-10.79],[4.33,-11.47],[3.36,-11.7],[2.2,-11.36],[1.22,-10.56],[.64,-10.06]],
 [[-1.3,-4.74],[-.52,-4.74],[.16,-4.97],[.35,-5.66],[1.03,-5.77],[1.42,-6.68],[2,-7.59],[2.68,-8.16],[3.56,-8.39],[3.26,-8.85],[2.2,-8.5],[1.22,-7.48],[.35,-7.02],[-.52,-6.8],[-1.1,-7.25],[-1.63,-6.23],[-1.2,-5.66]],
 [[-5.29,10.88],[-4.03,11.45],[-2.67,11.97],[-.72,11.9],[.35,11.45],[.41,9.97],[-.14,9.29],[-1.11,9.29],[-1.3,8.26],[-1.59,8.37],[-2.08,9.06],[-3.24,8.71],[-3.73,9.06],[-5.09,10.06]],
 [[-2.27,9.51],[-.72,10.31],[-.82,9.17],[-1.69,9.28]],
 [[-.1,15.44],[.16,16.12],[.74,16.58],[.93,17.38],[1.32,17.03],[1.42,16.47],[1.9,16.24],[1.71,15.44],[1.13,15.17],[.74,15.67]],
 [[-4.7,15.55],[-4.22,15.67],[-3.98,15.33],[-4.41,14.98],[-4.61,14.75],[-4.72,14.87]],
 [[11.07,4.04],[11.53,3.81],[12.55,3.81],[13.02,3.35],[13.06,2.89],[12.78,2.49],[12,2.55],[11.92,2.2],[12.43,1.23],[12.24,1.17],[11.69,2.09],[11.46,2.2],[11.22,2.2],[11.26,3.23]],
 [[.25,-5.43],[1.32,-4.9],[1.46,-5.04],[.64,-5.54]],
 [[2.67,7.36],[2.99,7.65],[3.41,7.59],[3.34,7.13],[2.99,7.02]],
 [[3.92,-.49],[4.27,-.26],[4.74,-.38],[4.27,-.55],[3.96,-.67]],
 [[.93,-7.82],[1.13,-8.5],[2.2,-8.96],[2.1,-9.14],[1.03,-8.78]],
 [[-2.25,4.3],[-2.05,4.75],[-1.95,4.6],[-2.15,4.2]],
 [[5.4,-7.2],[5.65,-7.2],[5.8,-8.3],[5.4,-8.3]]
];
const gStrayU1 = [.25,.16,-1.5,-1.79,-1.4,-1.01,-.72,-.43,-.33,-.82,-.33,.64,1.03,1.6,4.24,-1.8,-1.2,-1.5,7.9,2,3.5,5.3,4,6.3,-4.6, 5.64,6.23,6.42,6.68,6.46, 9.46,9.23,10.09,10.21,10.64,10.67,10.91, 10.36,10.79, 3.81,4.78,3.77,3.57, 6.3,6.54,6.69,6.38,6.26,6.46,7.08,6.65,4.35,4.59, 3.88,3.81];
const gStrayU2 = [-3.83,-4.17,-7.37,-7.02,-8.39,-8.28,-8.28,-8.5,-8.85,-8.96,-8.16,-9.19,-7.37,-7.48,10.76,9.55,10.1,10,-.1,-9.9,-10.3,-.6,-.8,-10.2,-9, -.15,-.38,-.55,-.55,-.26, 3.46,2.95,3.06,1.97,3.87,2.32,2.66, 3.69,3.6, 8.34,8.28,6.73,5.81, 5.41,5.41,5.18,4.84,4.73,4.38,3.69,3.81,4.04,3.58, 4.1,3.95];
const gStrayType = [1,1,1,1,1,1,1,1,1,1,1,1,1,1,2,0,0,0,0,3,4,0,0,7,0, 0,0,0,0,0, 7,7,7,7,7,7,7, 0,0, 3,3,3,3, 2,2,2,2,2,2,2,2,2,2, 3,3];

const panelG = document.getElementById('panelG');
const gX = linear(0, 677.5, 10, 1104.5);
const gY = linear(0, 2460.6, 10, 2170);
axes(panelG, 'cell-type-umap', 77, 1914, 2843, 1289);
yTicks(panelG, 'cell-type-umap', umapTicksY, umapTickLabelsY, gY, 77, 24, 11);
xTicks(panelG, 'cell-type-umap', umapTicksX, umapTickLabelsX, gX, 2843, 2865, 24);
gRegionOutlines.forEach(function (r, i) {
  blob(panelG, 'cell-region-' + cellTypes[gRegionType[i]].toLowerCase().replace(/ /g, '-'), r, gX, gY, cellTypeColors[gRegionType[i]], gRegionOpacity[i], 3.6, gRegionOpacity[i] < 1);
});
gStrayU1.forEach(function (u, i) {
  add(panelG, 'circle', 'stray-cell-' + cellTypes[gStrayType[i]].toLowerCase().replace(/ /g, '-'), {cx: gX(u), cy: gY(gStrayU2[i]), r: 2.2, fill: cellTypeColors[gStrayType[i]]});
});
cellTypes.forEach(function (c, i) {
  const slug = c.toLowerCase().replace(/ /g, '-');
  const t = label(panelG, 'cell-type-label-' + slug, gX(cellLabelU1[i]), gY(cellLabelU2[i]), c, 20);
  t.setAttribute('style', 'fill:#111');
  const y = 2268.3 + i * 27.6;
  add(panelG, 'circle', 'cell-type-legend-dot-' + slug, {cx: 1327.7, cy: y, r: 7.3, fill: cellTypeColors[i]});
  label(panelG, 'cell-type-legend-label-' + slug, 1349, y, c, 25, 'start');
});
</script>
</body>
</html>
